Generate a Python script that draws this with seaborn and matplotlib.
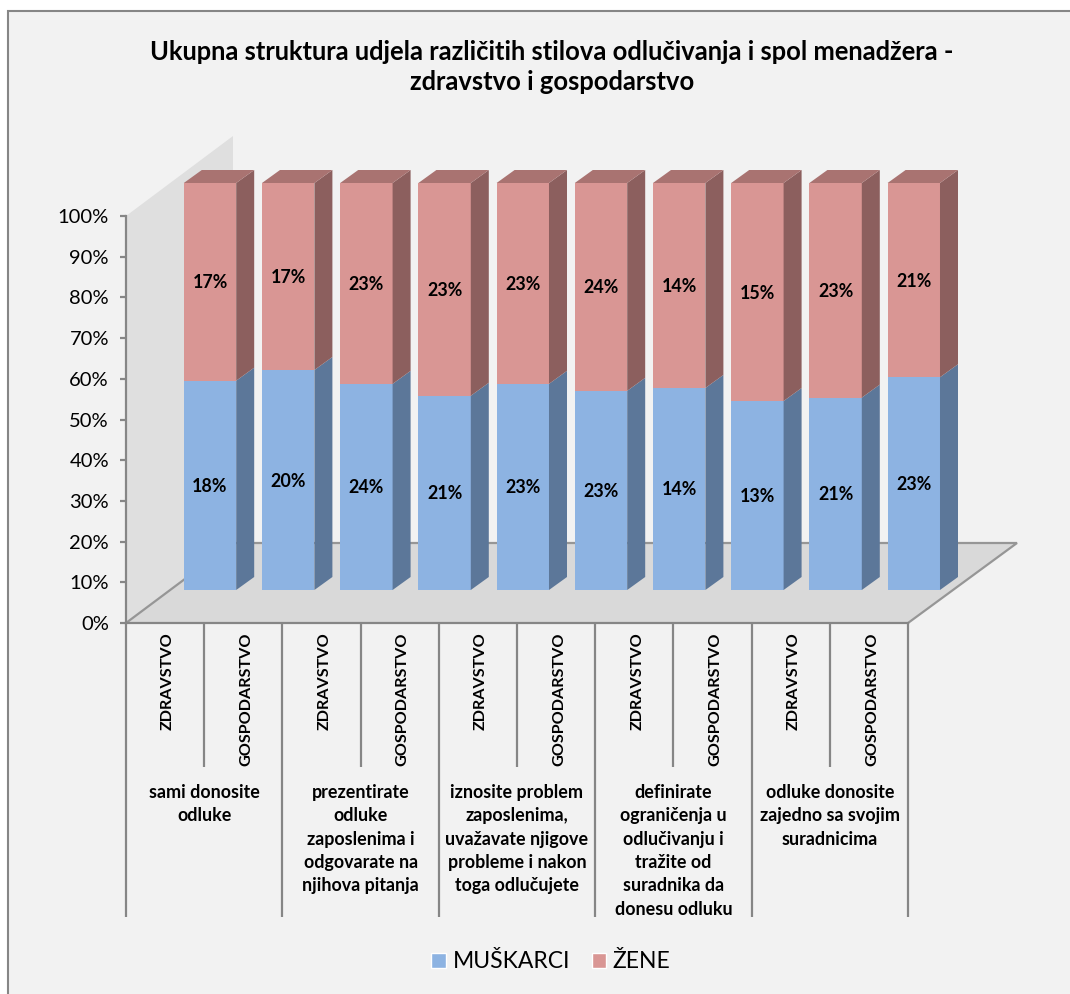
import numpy as np
import pandas as pd
import seaborn as sns
import matplotlib.pyplot as plt
from matplotlib.patches import Polygon, Rectangle, Patch
from matplotlib.transforms import ScaledTranslation

# chart values
styles = ['sami donosite\nodluke',
          'prezentirate\nodluke\nzaposlenima i\nodgovarate na\nnjihova pitanja',
          'iznosite problem\nzaposlenima,\nuvažavate njigove\nprobleme i nakon\ntoga odlučujete',
          'definirate\nograničenja u\nodlučivanju i\ntražite od\nsuradnika da\ndonesu odluku',
          'odluke donosite\nzajedno sa svojim\nsuradnicima']
sectors = ['ZDRAVSTVO', 'GOSPODARSTVO'] * 5
men = [18, 20, 23.6, 21, 23.3, 23, 13.9, 13, 20.8, 23]
women = [17, 17, 23, 23, 22.7, 24, 14.1, 15, 23.2, 21]
y_ticks = [0, 10, 20, 30, 40, 50, 60, 70, 80, 90, 100]
title = 'Ukupna struktura udjela različitih stilova odlučivanja i spol menadžera -\nzdravstvo i gospodarstvo'

W, H = 1070, 994
sns.set_theme(style='white')
plt.rcParams['font.family'] = ['Lato', 'DejaVu Sans']

GREY = '#868686'
BLUE, BLUE_SIDE = '#8DB3E2', '#5C7799'
RED, RED_SIDE, RED_TOP = '#D99694', '#8C5F5E', '#A97371'


def box(left, top, width, height):
    return [left / W, 1 - (top + height) / H, width / W, height / H]


df = pd.DataFrame({'pos': range(10), 'men': men, 'women': women})
df['men_share'] = df.men / (df.men + df.women) * 100
df['full'] = 100.0

fig = plt.figure(figsize=(W / 100, H / 100), dpi=100, facecolor='white')

# background: frame, wall and floor in pixel coordinates
bg = fig.add_axes([0, 0, 1, 1], zorder=0)
bg.set_xlim(0, W)
bg.set_ylim(H, 0)
bg.axis('off')
bg.add_patch(Rectangle((7.5, 10.5), W, H, fc='#F2F2F2', ec=GREY, lw=1.5))
bg.add_patch(Polygon([(126, 216), (233, 136), (233, 543), (126, 623)], fc='#DFDFDF', ec='none'))
bg.add_patch(Polygon([(126, 623), (233, 543), (1017, 543), (908, 623)], fc='#D9D9D9', ec='none'))
bg.plot([126, 233, 1017, 908], [623, 543, 543, 623], color='#969696', lw=1.6, solid_joinstyle='miter')

# axis with ticks, sector labels and category dividers
ax = fig.add_axes(box(126, 216, 782, 407), zorder=1)
ax.patch.set_alpha(0)
ax.set_xlim(-0.5, 9.5)
ax.set_ylim(0, 100)
sns.despine(ax=ax)
for s in ['left', 'bottom']:
    ax.spines[s].set_color(GREY)
    ax.spines[s].set_linewidth(1.6)
ax.set_yticks(y_ticks)
ax.set_yticklabels([f'{v}%' for v in y_ticks], fontsize=14.5, color='black')
ax.tick_params(axis='y', length=4.3, width=1.6, color=GREY, left=True, pad=8)
ax.set_xticks(df.pos)
ax.set_xticklabels(sectors, rotation=90, fontsize=11.6, fontweight='bold', color='black', va='top', ha='center')
ax.tick_params(axis='x', length=0, pad=7)
shift = ScaledTranslation(3 / 100, 0, fig.dpi_scale_trans)
for t in ax.get_xticklabels():
    t.set_transform(t.get_transform() + shift)

trans = ax.get_xaxis_transform()
ax.vlines(np.arange(0.5, 9, 2), 0, -144 / 407, transform=trans, color=GREY, lw=1.6, clip_on=False)
ax.vlines(np.arange(-0.5, 10, 2), 0, -294 / 407, transform=trans, color=GREY, lw=1.6, clip_on=False)
for g, label in enumerate(styles):
    ax.text(2 * g + 0.5, -161 / 407, label, transform=trans, ha='center', va='top', fontsize=12.9,
            fontweight='bold', color='black', linespacing=1.455)

# bars sit further back on the floor than the axis
bars = fig.add_axes(box(170.9, 183, 782, 407), zorder=2)
bars.patch.set_alpha(0)
sns.barplot(data=df, x='pos', y='full', color=RED, saturation=1, width=0.67, linewidth=0, ax=bars, order=list(df.pos))
sns.barplot(data=df, x='pos', y='men_share', color=BLUE, saturation=1, width=0.67, linewidth=0, ax=bars, order=list(df.pos))
bars.set_xlim(-0.5, 9.5)
bars.set_ylim(0, 100)
bars.axis('off')

# side and top faces, depth expressed in data units
dx, dy = 18 / 78.2, 13 / 4.07
patches = bars.patches
for i, row in df.iterrows():
    x0 = patches[i].get_x()
    x1 = x0 + patches[i].get_width()
    m = row.men_share
    bars.add_patch(Polygon([(x1, 0), (x1 + dx, dy), (x1 + dx, m + dy), (x1, m)], fc=BLUE_SIDE, ec='none', clip_on=False))
    bars.add_patch(Polygon([(x1, m), (x1 + dx, m + dy), (x1 + dx, 100 + dy), (x1, 100)], fc=RED_SIDE, ec='none', clip_on=False))
    bars.add_patch(Polygon([(x0, 100), (x0 + dx, 100 + dy), (x1 + dx, 100 + dy), (x1, 100)], fc=RED_TOP, ec='none', clip_on=False))
    bars.text(row.pos, m / 2 - 0.25, f'{row.men:.0f}%', ha='center', va='center', fontsize=12.9, fontweight='bold', color='black')
    bars.text(row.pos, (m + 100) / 2 - 0.25, f'{row.women:.0f}%', ha='center', va='center', fontsize=12.9, fontweight='bold', color='black')

bg.text(552, 67, title, ha='center', va='center', fontsize=18.4, fontweight='bold', color='black', linespacing=1.3)

handles = [Patch(fc=BLUE, label='MUŠKARCI'), Patch(fc=RED, label='ŽENE')]
bg.legend(handles=handles, loc='center', bbox_to_anchor=(551 / W, 1 - 962 / H), bbox_transform=fig.transFigure,
          ncol=2, frameon=False, fontsize=16.5, handlelength=0.62, handleheight=0.62, handletextpad=0.3,
          columnspacing=0.95, labelcolor='black')

fig.savefig('out.png', dpi=100)
